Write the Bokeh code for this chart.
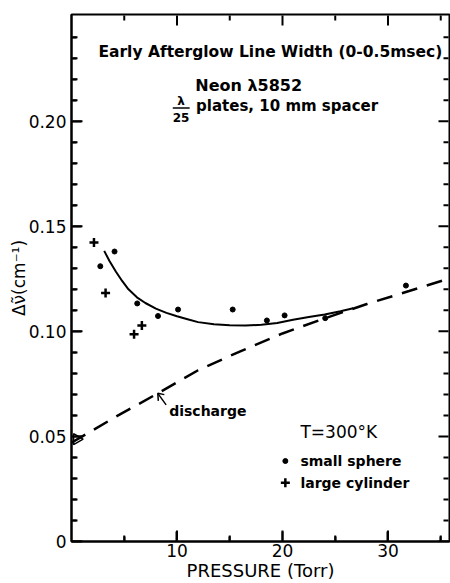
import numpy as np
from bokeh.plotting import figure
from bokeh.models import FixedTicker, CustomJSTickFormatter, Range1d
from bokeh.core.properties import value
from bokeh.embed import file_html
from bokeh.resources import INLINE

# ---- data ----
sphere_p = [2.73, 4.08, 6.23, 8.2, 10.1, 15.28, 18.52, 20.2, 24.05, 31.7]
sphere_w = [0.131, 0.138, 0.1133, 0.1073, 0.1104, 0.1104, 0.1052, 0.1076, 0.1063, 0.1218]

cylinder_p = [2.13, 3.23, 5.93, 6.67]
cylinder_w = [0.1423, 0.1183, 0.0986, 0.1028]

fit_p = [3.1, 3.6, 4.2, 4.8, 5.4, 6.2, 7.0, 8.0, 9.0, 10.0, 11.0, 12.0, 13.5,
         15.0, 16.5, 18.0, 19.5, 21.0, 22.5, 24.0, 25.5, 26.7]
fit_w = [0.1383, 0.1335, 0.1285, 0.1240, 0.1200, 0.1162, 0.1135, 0.1108, 0.1088,
         0.1072, 0.1058, 0.1044, 0.1034, 0.1029, 0.1028, 0.1031, 0.1040, 0.1055,
         0.1068, 0.1080, 0.1096, 0.1110]

discharge_p = [0.0, 4.0, 8.0, 12.0, 16.0, 20.0, 24.0, 28.0, 32.0, 35.83]
discharge_w = [0.047, 0.0588, 0.0700, 0.0815, 0.0905, 0.0990, 0.1062, 0.1130, 0.1192, 0.1252]

x_major = [10, 20, 30]
x_minor = [5, 15, 25, 35]
y_major = [0.0, 0.05, 0.10, 0.15, 0.20]
y_minor = [0.01, 0.02, 0.03, 0.04, 0.06, 0.07, 0.08, 0.09, 0.11, 0.12, 0.13, 0.14,
           0.16, 0.17, 0.18, 0.19, 0.21, 0.22, 0.23, 0.24]

FONT = "DejaVu Sans"
X_MAX, Y_MAX = 35.83, 0.2508
PX_X = X_MAX / 378.0      # data units per pixel, horizontal
PX_Y = Y_MAX / 530.0      # data units per pixel, vertical

p = figure(width=450, height=583, x_range=Range1d(0, X_MAX), y_range=Range1d(0, Y_MAX),
           output_backend="svg", toolbar_location=None,
           min_border_left=71, min_border_right=1, min_border_top=14, min_border_bottom=39)
p.outline_line_color = "black"
p.outline_line_width = 2
p.xgrid.visible = False
p.ygrid.visible = False

for ax, tk in ((p.xaxis[0], FixedTicker(ticks=x_major, minor_ticks=x_minor)),
               (p.yaxis[0], FixedTicker(ticks=y_major, minor_ticks=y_minor))):
    ax.ticker = tk
    ax.axis_line_color = "black"
    ax.axis_line_width = 2
    ax.major_tick_line_color = "black"
    ax.minor_tick_line_color = "black"
    ax.major_tick_line_width = 2
    ax.minor_tick_line_width = 2
    ax.major_tick_in = 10
    ax.major_tick_out = 0
    ax.minor_tick_in = 5
    ax.minor_tick_out = 0
    ax.major_label_text_font = FONT
    ax.major_label_text_font_size = "17px"
    ax.major_label_text_color = "black"
    ax.axis_label_text_font = FONT
    ax.axis_label_text_font_style = "normal"
    ax.axis_label_text_color = "black"

xax = p.xaxis[0]
xax.major_label_standoff = 2
xax.axis_label = "PRESSURE (Torr)"
xax.axis_label_text_font_size = "18px"
xax.axis_label_standoff = 0

yax = p.yaxis[0]
yax.formatter = CustomJSTickFormatter(code="return tick == 0 ? '0' : tick.toFixed(2);")
yax.major_label_standoff = 5
yax.axis_label = "\u0394\u03bd\u0303(cm\u207b\u00b9)"
yax.axis_label_text_font_size = "17px"
yax.axis_label_standoff = -3

# ---- inward ticks on all four sides, as dash markers placed from the tick lists ----
TK = dict(marker="dash", line_color="black", line_width=2)
xM = [float(t) for t in x_major]
xm = [float(t) for t in x_minor]
yM = [float(t) for t in y_major]
ym = [float(t) for t in y_minor]
# bottom and top
p.scatter(xM, [6 * PX_Y] * len(xM), size=10, angle=np.pi / 2, **TK)
p.scatter(xm, [3.5 * PX_Y] * len(xm), size=5, angle=np.pi / 2, **TK)
p.scatter(xM, [Y_MAX - 6 * PX_Y] * len(xM), size=10, angle=np.pi / 2, **TK)
p.scatter(xm, [Y_MAX - 3.5 * PX_Y] * len(xm), size=5, angle=np.pi / 2, **TK)
# left and right
p.scatter([6 * PX_X] * len(yM), yM, size=10, **TK)
p.scatter([3.5 * PX_X] * len(ym), ym, size=5, **TK)
p.scatter([X_MAX - 6 * PX_X] * len(yM), yM, size=10, **TK)
p.scatter([X_MAX - 3.5 * PX_X] * len(ym), ym, size=5, **TK)

# ---- curves ----
p.line(discharge_p, discharge_w, line_color="black", line_width=2.5, line_dash="16 10")
p.line(fit_p, fit_w, line_color="black", line_width=2)

# ---- points ----
p.scatter(sphere_p, sphere_w, marker="circle", size=5, fill_color="black", line_color="black")
p.scatter(cylinder_p, cylinder_w, marker="cross", size=9, line_color="black", line_width=2.5)

# marker on the axis near 0.05
p.scatter([0.5], [0.0487], marker="triangle", angle=-np.pi / 2, size=11,
          fill_color=None, line_color="black", line_width=1.5)

# ---- annotations ----
p.text(x=[2.55], y=[0.2328], text=["Early Afterglow Line Width (0-0.5msec)"],
       text_font=value(FONT), text_font_size="15.5px", text_font_style="bold",
       text_baseline="middle", text_align="left", text_color="black")
p.text(x=[11.73], y=[0.2168], text=["Neon \u03bb5852"],
       text_font=value(FONT), text_font_size="16px", text_font_style="bold",
       text_baseline="middle", text_align="left", text_color="black")
p.text(x=[11.81], y=[0.2073], text=["plates, 10 mm spacer"],
       text_font=value(FONT), text_font_size="15px", text_font_style="bold",
       text_baseline="middle", text_align="left", text_color="black")
p.text(x=[10.39, 10.39], y=[0.2098, 0.2016], text=["\u03bb", "25"],
       text_font=value(FONT), text_font_size="12px", text_font_style="bold",
       text_baseline="middle", text_align="center", text_color="black")
p.multi_line(xs=[[9.6, 11.2]], ys=[[0.2063, 0.2063]], line_color="black", line_width=1.5)

p.text(x=[9.26], y=[0.062], text=["discharge"],
       text_font=value(FONT), text_font_size="14px", text_font_style="bold",
       text_baseline="middle", text_align="left", text_color="black")
# arrow pointing at the dashed line: shaft and open head
ax_end, ay_end = 8.18, 0.0705
p.multi_line(xs=[[8.97, ax_end], [ax_end + 0.62, ax_end, ax_end + 0.05]],
             ys=[[0.065, ay_end], [ay_end - 0.0006, ay_end, ay_end - 0.0036]],
             line_color="black", line_width=1.5)

p.text(x=[21.7], y=[0.052], text=["T=300\u00b0K"],
       text_font=value(FONT), text_font_size="17px", text_font_style="normal",
       text_baseline="middle", text_align="left", text_color="black")
p.scatter([20.27], [0.0383], marker="circle", size=5, fill_color="black", line_color="black")
p.scatter([20.27], [0.0279], marker="cross", size=9, line_color="black", line_width=2.5)
p.text(x=[21.7, 21.7], y=[0.0383, 0.0279], text=["small sphere", "large cylinder"],
       text_font=value(FONT), text_font_size="14px", text_font_style="bold",
       text_baseline="middle", text_align="left", text_color="black")

open("out.html", "w").write(file_html(p, INLINE))
